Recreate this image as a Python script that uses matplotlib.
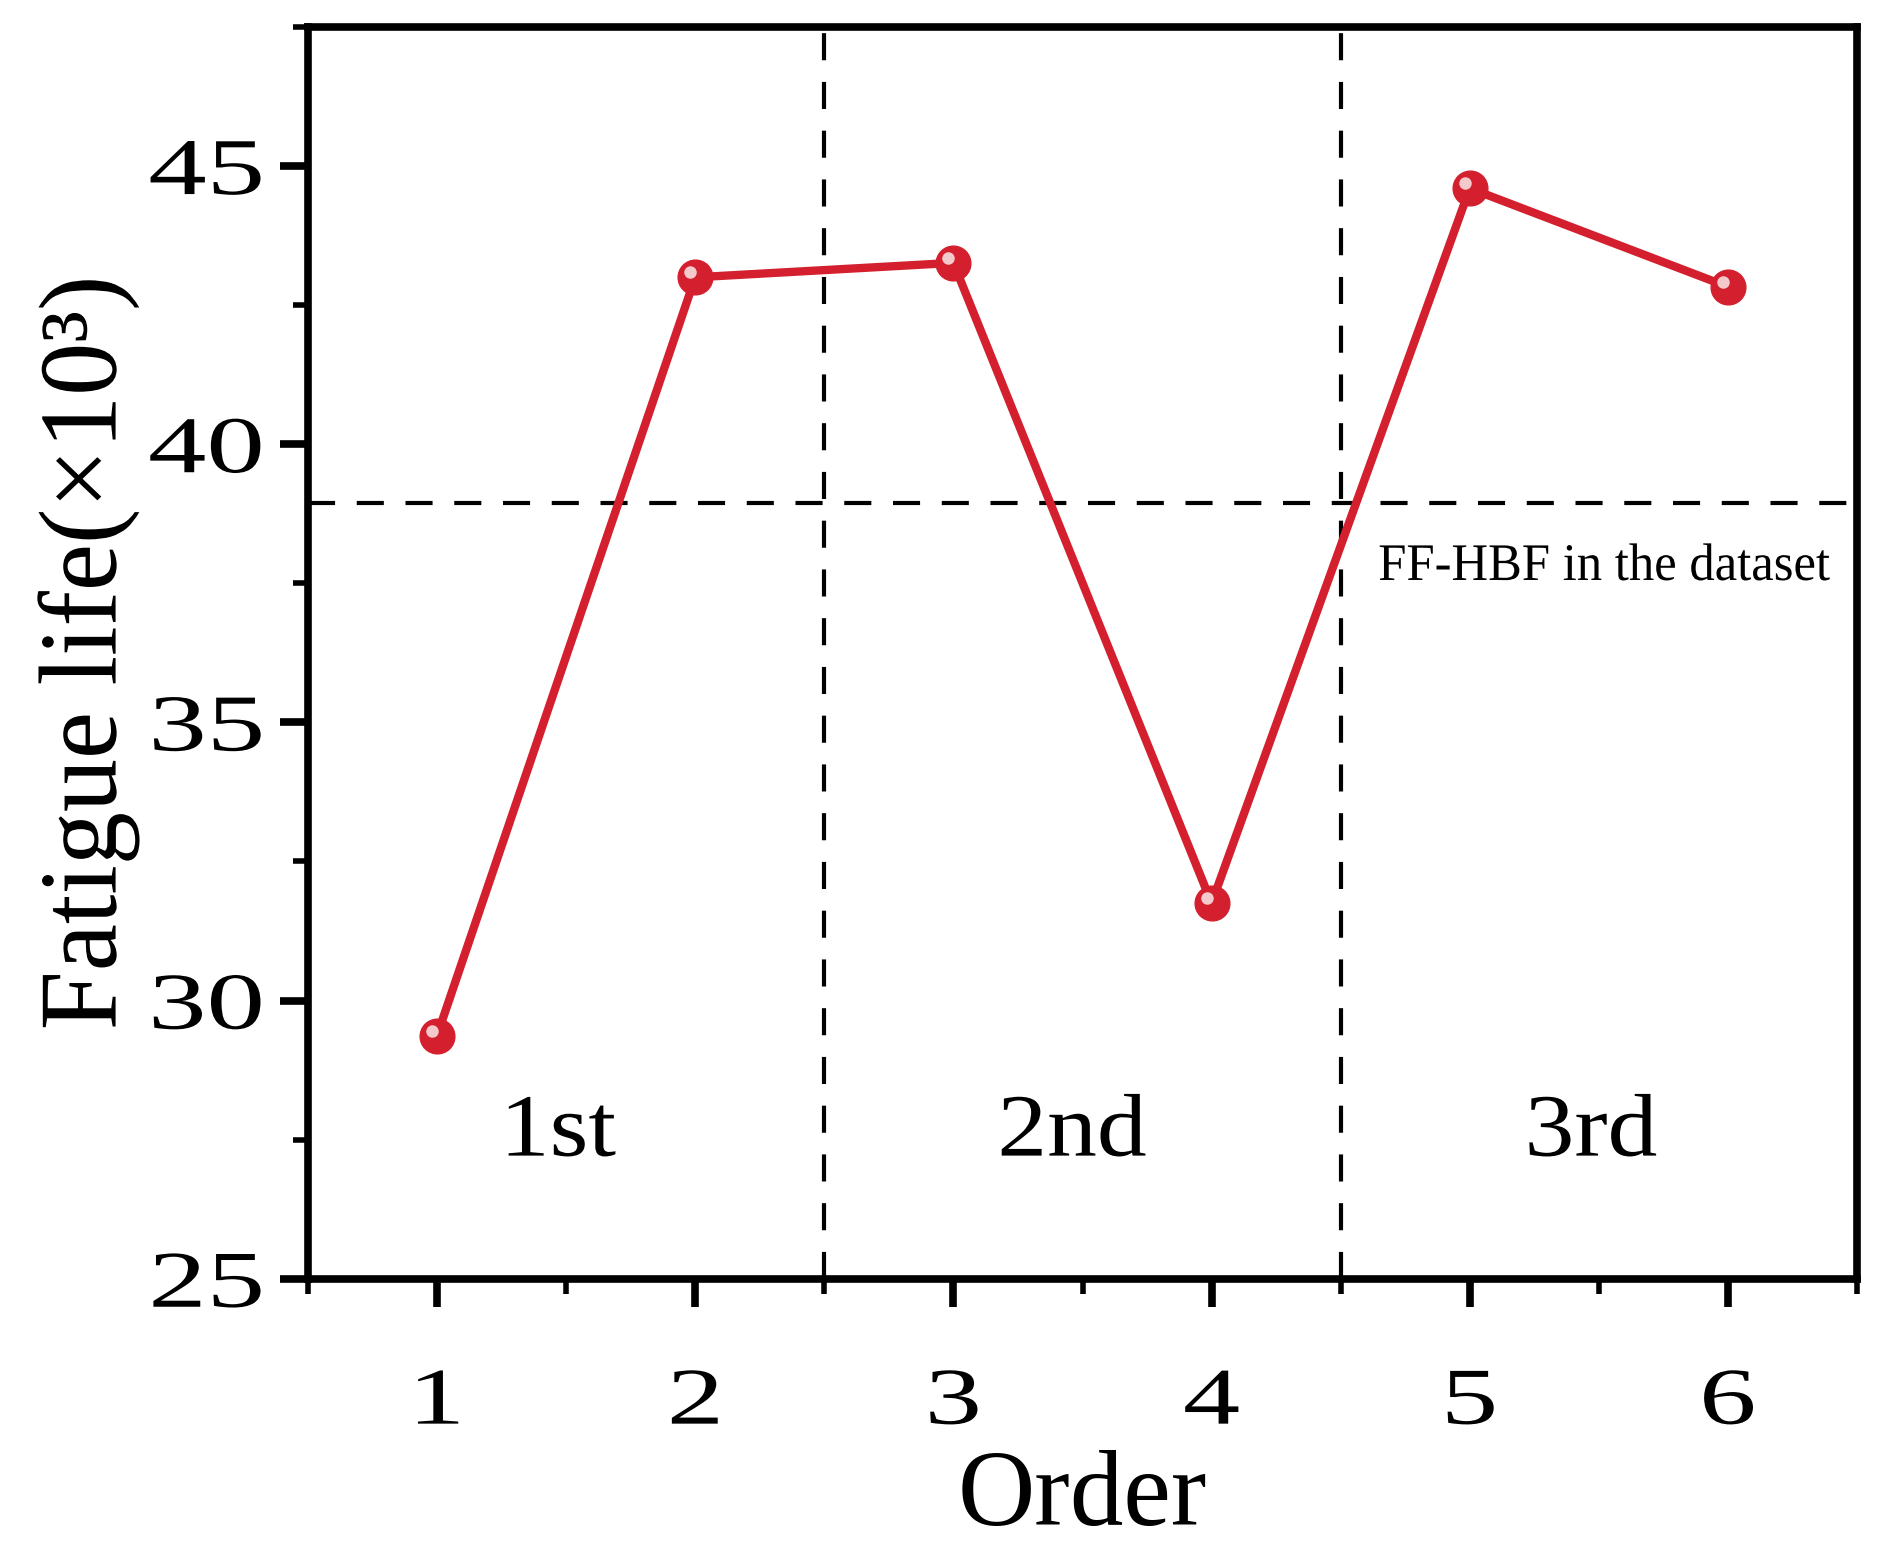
import matplotlib
matplotlib.use("Agg")
import matplotlib.pyplot as plt
from matplotlib.patheffects import AbstractPathEffect
from matplotlib.transforms import Affine2D, offset_copy

plt.rcParams['font.family'] = ['Liberation Serif', 'DejaVu Serif']

# data
order = [1, 2, 3, 4, 5, 6]
life = [29.37, 43.0, 43.26, 31.75, 44.6, 42.83]
baseline = 38.95          # FF-HBF in the dataset
group_bounds = [2.5, 4.5]
group_names = ['1st', '2nd', '3rd']
group_pos = [1.47, 3.46, 5.47]

red = '#d4202e'


class Stretch(AbstractPathEffect):
    """widen/narrow glyphs along the text direction"""
    def __init__(self, sx, anchor='center'):
        super().__init__()
        self.sx = sx
        self.anchor = anchor

    def draw_path(self, renderer, gc, tpath, affine, rgbFace=None):
        ext = tpath.get_extents()
        if self.anchor == 'right':
            cx = ext.x1
        elif self.anchor == 'left':
            cx = ext.x0
        else:
            cx = (ext.x0 + ext.x1) / 2
        t = Affine2D().translate(-cx, 0).scale(self.sx, 1).translate(cx, 0) + affine
        renderer.draw_path(gc, tpath, t, rgbFace)


fig = plt.figure(figsize=(18.95, 15.5), dpi=100)
ax = fig.add_axes([0.1625, 0.175, 0.8175, 0.8076])

ax.plot(order, life, color=red, lw=6, zorder=3,
        marker='o', ms=25, mfc=red, mec=red)
# glossy spot on each ball
hl = offset_copy(ax.transData, fig=fig, x=-5, y=5, units='dots')
ax.plot(order, life, ls='none', marker='o', ms=9, mfc='#f4c9cc', mec='none',
        transform=hl, zorder=4)

ax.axhline(baseline, color='black', lw=3, dashes=(6.5, 5.2), zorder=2)
for b in group_bounds:
    ax.axvline(b, color='black', lw=3, dashes=(6.5, 5.2), zorder=2)

for name, xp in zip(group_names, group_pos):
    ax.text(xp, 27.6, name, fontsize=64, ha='center', va='center',
            path_effects=[Stretch(1.12)])
ax.text(5.52, 37.56, 'FF-HBF in the dataset', fontsize=38, ha='center',
        va='baseline', path_effects=[Stretch(0.96)])

ax.set_xlim(0.5, 6.5)
ax.set_ylim(25, 47.5)
ax.set_xticks(order)
ax.set_xticks([0.5, 1.5, 2.5, 3.5, 4.5, 5.5, 6.5], minor=True)
ax.set_yticks([25, 30, 35, 40, 45])
ax.set_yticks([27.5, 32.5, 37.5, 42.5, 47.5], minor=True)

for s in ax.spines.values():
    s.set_linewidth(5.5)
ax.tick_params(which='major', direction='out', length=20, width=5.5, labelsize=58, pad=12)
ax.tick_params(which='minor', direction='out', length=11, width=4)
ax.tick_params(axis='x', which='major', pad=44)

for lab in ax.get_xticklabels():
    lab.set_path_effects([Stretch(1.42)])
for lab in ax.get_yticklabels():
    lab.set_path_effects([Stretch(1.45, 'right')])

ax.set_xlabel('Order', fontsize=77, labelpad=7)
ax.set_ylabel('Fatigue life(×10³)', fontsize=80, path_effects=[Stretch(0.955)])
ax.yaxis.set_label_coords(-0.109, 0.5)

fig.savefig('out.png', dpi=100)
